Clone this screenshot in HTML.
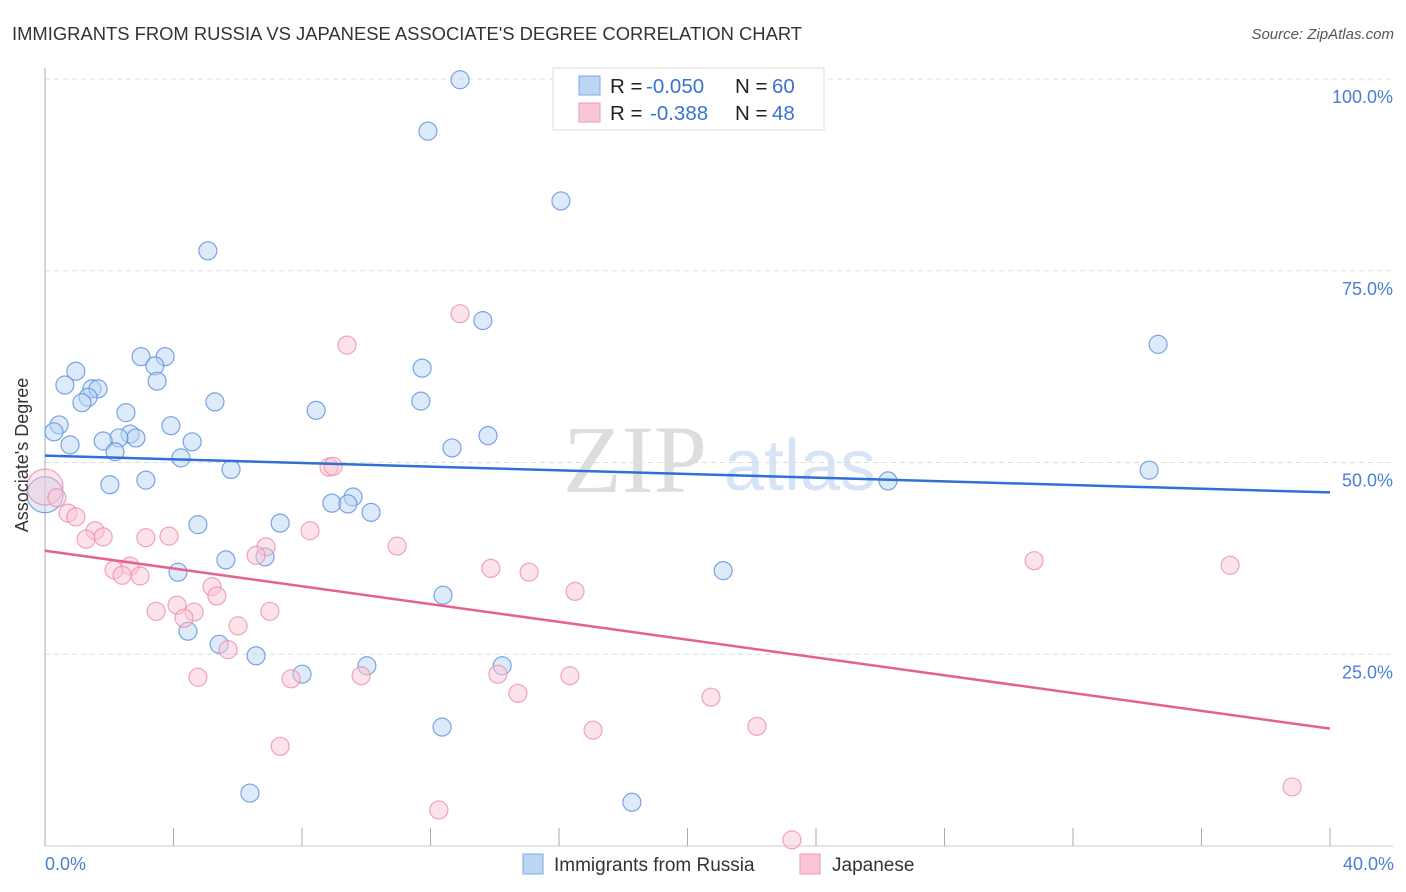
<!DOCTYPE html>
<html><head><meta charset="utf-8">
<style>
body{margin:0;background:#fff;font-family:"Liberation Sans",sans-serif;}
#wrap{position:relative;width:1406px;height:892px;overflow:hidden;}
</style></head>
<body>
<div id="wrap">
<svg id="chart" width="1406" height="892" xmlns="http://www.w3.org/2000/svg">
<text x="12" y="40" font-size="18.4" fill="#333">IMMIGRANTS FROM RUSSIA VS JAPANESE ASSOCIATE'S DEGREE CORRELATION CHART</text>
<text x="1394" y="39" font-size="15" fill="#555" font-style="italic" text-anchor="end">Source: ZipAtlas.com</text>
<text x="635" y="492" font-size="96" fill="#ddd" text-anchor="middle" font-family="Liberation Serif,serif">ZIP</text>
<text x="800" y="490" font-size="72" fill="#d6e4f5" text-anchor="middle">atlas</text>
<g id="grid"></g>
<g id="axes"></g>
<g id="blue"></g>
<g id="pink"></g>
<g id="trends"></g>
<text x="28" y="455" font-size="18" fill="#333" text-anchor="middle" transform="rotate(-90 28 455)">Associate's Degree</text>
<text x="45" y="870" font-size="18" fill="#4a7fd4">0.0%</text>
<text x="1394" y="870" font-size="18" fill="#4a7fd4" text-anchor="end">40.0%</text>
<g>
<rect x="553" y="68" width="271" height="62" fill="#fff" stroke="#ddd"/>
<rect x="579" y="76" width="21" height="19" fill="#bcd5f5" stroke="#7fa8e0"/>
<rect x="579" y="103" width="21" height="19" fill="#f9c6d5" stroke="#eb9ab3"/>
<text y="93" font-size="20.5"><tspan x="610" fill="#222">R = </tspan><tspan x="646" fill="#3b73d1">-0.050</tspan><tspan x="735" fill="#222">N = </tspan><tspan x="772" fill="#3b73d1">60</tspan></text>
<text y="120" font-size="20.5"><tspan x="610" fill="#222">R = </tspan><tspan x="650" fill="#3b73d1">-0.388</tspan><tspan x="735" fill="#222">N = </tspan><tspan x="772" fill="#3b73d1">48</tspan></text>
</g>
<g>
<rect x="523" y="854" width="20" height="20" fill="#bcd5f5" stroke="#7fa8e0"/>
<text x="554" y="871" font-size="19" fill="#333">Immigrants from Russia</text>
<rect x="800" y="854" width="20" height="20" fill="#f9c6d5" stroke="#eb9ab3"/>
<text x="832" y="871" font-size="19" fill="#333">Japanese</text>
</g>
</svg>
</div>
<script>
const yTicks=[25,50,75,100];
const yTickLabels=["25.0%","50.0%","75.0%","100.0%"];
const xTicks=[0,4,8,12,16,20,24,28,32,36,40];
const russiaX=[12.92,11.92,16.06,5.07,13.63,34.65,2.99,3.74,3.42,11.74,0.96,3.49,0.62,1.46,1.65,1.34,1.15,5.29,11.70,8.44,2.52,0.44,3.92,0.28,2.65,2.83,2.30,1.81,4.58,13.79,0.78,12.67,2.18,4.23,5.79,34.37,3.14,26.24,2.02,0,9.59,8.93,9.43,10.15,4.76,7.32,5.63,6.85,4.14,21.11,12.39,4.45,5.42,6.57,10.02,14.23,8.00,12.36,6.38,18.27];
const russiaY=[99.9,93.2,84.1,77.6,68.5,65.4,63.8,63.8,62.6,62.3,61.9,60.6,60.1,59.6,59.6,58.5,57.8,57.9,58.0,56.8,56.5,54.9,54.8,54.0,53.7,53.2,53.2,52.8,52.7,53.5,52.3,51.9,51.4,50.6,49.1,49.0,47.7,47.6,47.1,45.8,45.5,44.7,44.6,43.5,41.9,42.1,37.3,37.7,35.7,35.9,32.7,28.0,26.3,24.8,23.5,23.5,22.4,15.5,6.9,5.7];
const japanX=[12.92,9.40,8.84,8.97,0,0.37,0.72,0.96,1.56,1.28,1.81,3.14,3.86,8.25,10.96,6.88,6.57,2.15,2.65,2.96,2.40,13.88,15.07,30.79,36.89,5.20,5.35,16.50,4.11,3.46,4.64,4.33,7.00,6.01,5.70,4.76,7.66,9.84,14.10,16.34,14.72,20.73,17.06,22.16,7.32,12.26,23.25,38.82];
const japanY=[69.4,65.3,49.4,49.5,46.8,45.4,43.4,42.9,41.1,40.0,40.3,40.2,40.4,41.1,39.1,39.0,37.9,36.0,36.5,35.2,35.3,36.2,35.7,37.2,36.6,33.8,32.6,33.2,31.4,30.6,30.5,29.7,30.6,28.7,25.6,22.0,21.8,22.2,22.4,22.2,19.9,19.4,15.1,15.6,13.0,4.7,0.8,7.7];
const russiaTrend=[50.9,46.1];
const japanTrend=[38.5,15.3];

const NS="http://www.w3.org/2000/svg";
const X0=45,X1=1330,Y0=846,Y100=79;
function sx(v){return X0+(v/40)*(X1-X0);}
function sy(v){return Y0-(v/100)*(Y0-Y100);}
function mk(t,a,p){const e=document.createElementNS(NS,t);for(const k in a)e.setAttribute(k,a[k]);p.appendChild(e);return e;}
const grid=document.getElementById('grid'),axes=document.getElementById('axes');
yTicks.forEach((v,i)=>{
  const l=mk('line',{x1:45,x2:1393,y1:sy(v),y2:sy(v),stroke:'#ddd','stroke-dasharray':'5,4'},grid);
  
  
  const t=mk('text',{x:1393,y:sy(v)+24,'font-size':18,fill:'#4a7fd4','text-anchor':'end'},grid);
  t.textContent=yTickLabels[i];
  
  
});
const al=mk('line',{x1:45,x2:45,y1:68,y2:846,stroke:'#aaa'},axes);


const bl=mk('line',{x1:45,x2:1393,y1:846,y2:846,stroke:'#ccc'},axes);


xTicks.forEach(v=>{
  const t=mk('line',{x1:sx(v),x2:sx(v),y1:828,y2:846,stroke:'#aaa'},axes);
  
  
});
function pts(xs,ys,g,fill,stroke,name){
  xs.forEach((x,i)=>{
    const big=(x===0);
    const c=mk('circle',{cx:sx(x),cy:sy(ys[i]),r:big?18:9,fill:fill,'fill-opacity':big?0.45:0.5,stroke:stroke,'stroke-width':1.2,'stroke-opacity':0.8},g);
    
    
  });
}
pts(russiaX,russiaY,document.getElementById('blue'),'#bcd5f5','#5b8fdb','russia-point');
pts(japanX,japanY,document.getElementById('pink'),'#f9c6d5','#eb8fac','japanese-point');
const tr=document.getElementById('trends');
const l1=mk('line',{x1:sx(0),y1:sy(russiaTrend[0]),x2:sx(40),y2:sy(russiaTrend[1]),stroke:'#2f6fd6','stroke-width':2.5},tr);


const l2=mk('line',{x1:sx(0),y1:sy(japanTrend[0]),x2:sx(40),y2:sy(japanTrend[1]),stroke:'#e5628f','stroke-width':2.5},tr);


</script>
</body></html>
